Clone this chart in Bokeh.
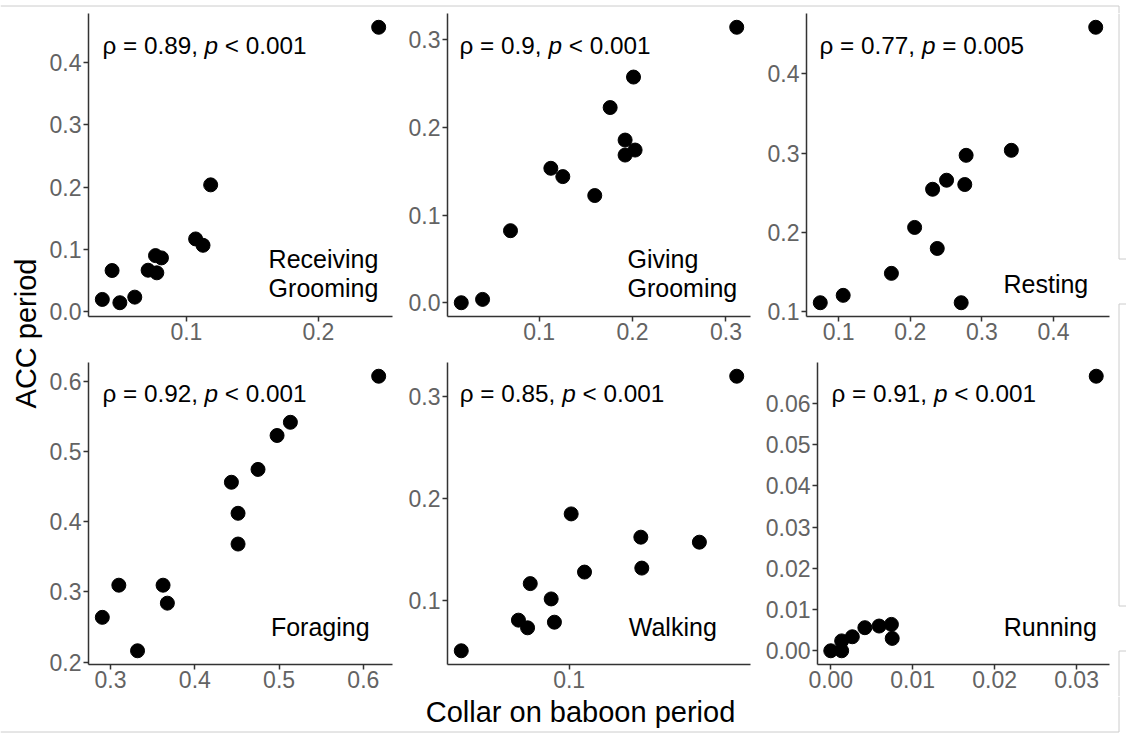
import math
import numpy as np
from bokeh.plotting import figure
from bokeh.layouts import row, column
from bokeh.models import FixedTicker, PrintfTickFormatter, Range1d
from bokeh.core.properties import value
from bokeh.embed import file_html
from bokeh.resources import INLINE

# ---------------- data ----------------
rg_collar = [0.2457, 0.1184, 0.1070, 0.1126, 0.0766, 0.0811, 0.0710, 0.0776, 0.0437, 0.0363, 0.0496, 0.0609]
rg_acc = [0.4570, 0.2035, 0.1165, 0.1063, 0.0897, 0.0860, 0.0662, 0.0620, 0.0657, 0.0192, 0.0139, 0.0229]

gg_collar = [0.0166, 0.0394, 0.0693, 0.1125, 0.1253, 0.1595, 0.1760, 0.1920, 0.1920, 0.2027, 0.2010, 0.3115]
gg_acc = [0.0000, 0.0038, 0.0822, 0.1534, 0.1439, 0.1223, 0.2227, 0.1856, 0.1685, 0.1742, 0.2575, 0.3143]

rs_collar = [0.0744, 0.1064, 0.1737, 0.2061, 0.2377, 0.2312, 0.2507, 0.2761, 0.2780, 0.2711, 0.3411, 0.4589]
rs_acc = [0.1113, 0.1206, 0.1483, 0.2062, 0.1797, 0.2543, 0.2657, 0.2603, 0.2971, 0.1113, 0.3034, 0.4585]

fo_collar = [0.6182, 0.5134, 0.4976, 0.4750, 0.4434, 0.4513, 0.4513, 0.3098, 0.3623, 0.3674, 0.2902, 0.3320]
fo_acc = [0.6070, 0.5414, 0.5226, 0.4743, 0.4560, 0.4118, 0.3680, 0.3094, 0.3094, 0.2838, 0.2636, 0.2160]

wk_collar = [0.3188, 0.1014, 0.1642, 0.2462, 0.1112, 0.1653, 0.0764, 0.0883, 0.0903, 0.0704, 0.0750, 0.0474]
wk_acc = [0.3195, 0.1846, 0.1618, 0.1569, 0.1276, 0.1315, 0.1163, 0.1013, 0.0785, 0.0805, 0.0730, 0.0505]

rn_collar = [0.0324, 0.0000, 0.00133, 0.00133, 0.00263, 0.00416, 0.0059, 0.0074, 0.0075]
rn_acc = [0.0666, 0.0000, 0.0000, 0.0024, 0.0034, 0.0056, 0.0060, 0.0064, 0.0030]

# tick values and labels
rg_xticks, rg_xlabels = [0.1, 0.2], ["0.1", "0.2"]
rg_yticks, rg_ylabels = [0.0, 0.1, 0.2, 0.3, 0.4], ["0.0", "0.1", "0.2", "0.3", "0.4"]
gg_xticks, gg_xlabels = [0.1, 0.2, 0.3], ["0.1", "0.2", "0.3"]
gg_yticks, gg_ylabels = [0.0, 0.1, 0.2, 0.3], ["0.0", "0.1", "0.2", "0.3"]
rs_xticks, rs_xlabels = [0.1, 0.2, 0.3, 0.4], ["0.1", "0.2", "0.3", "0.4"]
rs_yticks, rs_ylabels = [0.1, 0.2, 0.3, 0.4], ["0.1", "0.2", "0.3", "0.4"]
fo_xticks, fo_xlabels = [0.3, 0.4, 0.5, 0.6], ["0.3", "0.4", "0.5", "0.6"]
fo_yticks, fo_ylabels = [0.2, 0.3, 0.4, 0.5, 0.6], ["0.2", "0.3", "0.4", "0.5", "0.6"]
wk_xticks, wk_xlabels = [0.1], ["0.1"]
wk_yticks, wk_ylabels = [0.1, 0.2, 0.3], ["0.1", "0.2", "0.3"]
rn_xticks, rn_xlabels = [0.0, 0.01, 0.02, 0.03], ["0.00", "0.01", "0.02", "0.03"]
rn_yticks, rn_ylabels = [0.0, 0.01, 0.02, 0.03, 0.04, 0.05, 0.06], ["0.00", "0.01", "0.02", "0.03", "0.04", "0.05", "0.06"]

rho_values = ["0.89", "0.9", "0.77", "0.92", "0.85", "0.91"]
p_values = ["< 0.001", "< 0.001", "= 0.005", "< 0.001", "< 0.001", "< 0.001"]
behaviours = [["Receiving", "Grooming"], ["Giving", "Grooming"], ["Resting"], ["Foraging"], ["Walking"], ["Running"]]

x_title = "Collar on baboon period"
y_title = "ACC period"

# ---------------- styling ----------------
FONT = "Liberation Sans"
TICK_FS = 23
ANNO_FS = 24.3
LABEL_FS = 25
TITLE_FS = 29
BASE_FIX = 0.4          # empirical shift of the alphabetic baseline (em)
FRAME_GREY = "#cccccc"

# approximate Liberation Sans advance widths (em)
WID = {c: 0.556 for c in "0123456789"}
WID.update({".": 0.278, ",": 0.278, " ": 0.278, "=": 0.584, "<": 0.584, "p": 0.556, "\u03c1": 0.574})


def str_w(s, fs):
    return sum(WID.get(c, 0.556) for c in s) * fs


def expand(vals, log=False):
    a = np.asarray(vals, dtype=float)
    if log:
        a = np.log10(a)
    lo, hi = a.min(), a.max()
    pad = 0.05 * (hi - lo)
    lo, hi = lo - pad, hi + pad
    if log:
        return 10 ** lo, 10 ** hi
    return lo, hi


def panel(xs, ys, xt, xl, yt, yl, width, height, left, right, top, bottom,
          rho, pv, beh, anno_pos, beh_pos, xdec, ydec, xlog=False):
    fw = width - left - right
    fh = height - top - bottom
    x0, x1 = expand(xs, xlog)
    y0, y1 = expand(ys)
    p = figure(width=width, height=height,
               x_range=Range1d(x0, x1), y_range=Range1d(y0, y1),
               x_axis_type="log" if xlog else "linear",
               output_backend="svg", toolbar_location=None,
               min_border_left=left, min_border_right=right,
               min_border_top=top, min_border_bottom=bottom)
    p.outline_line_color = None
    p.xgrid.visible = False
    p.ygrid.visible = False
    p.background_fill_color = "white"
    p.border_fill_color = "white"

    p.xaxis.ticker = FixedTicker(ticks=xt)
    p.yaxis.ticker = FixedTicker(ticks=yt)
    p.xaxis.formatter = PrintfTickFormatter(format="%%.%df" % xdec)
    p.yaxis.formatter = PrintfTickFormatter(format="%%.%df" % ydec)
    p.xaxis.major_label_overrides = {t: s for t, s in zip(xt, xl)}
    p.yaxis.major_label_overrides = {t: s for t, s in zip(yt, yl)}
    for ax in (p.xaxis, p.yaxis):
        ax.axis_line_color = "#333333"
        ax.axis_line_width = 1.5
        ax.major_tick_line_color = "#333333"
        ax.major_tick_line_width = 1.5
        ax.major_tick_out = 5
        ax.major_tick_in = 0
        ax.minor_tick_line_color = None
        ax.major_label_text_font = FONT
        ax.major_label_text_font_size = "%dpx" % TICK_FS
        ax.major_label_text_color = "#636363"
    p.xaxis.major_label_standoff = 1
    p.yaxis.major_label_standoff = 2

    p.scatter(xs, ys, size=14, color="black")

    def to_data(dx, dy_top):
        if xlog:
            lx0, lx1 = math.log10(x0), math.log10(x1)
            x = 10 ** (lx0 + dx / fw * (lx1 - lx0))
        else:
            x = x0 + dx / fw * (x1 - x0)
        y = y1 - dy_top / fh * (y1 - y0)
        return x, y

    # correlation annotation: "ρ = r, " + italic "p" + " < 0.001"
    fix = BASE_FIX * ANNO_FS
    part1 = "\u03c1 = %s," % rho
    ax_, ay_ = anno_pos
    xa, ya = to_data(ax_, ay_ - fix)
    xb, _ = to_data(ax_ + str_w(part1 + " ", ANNO_FS), ay_)
    xc, _ = to_data(ax_ + str_w(part1 + " p ", ANNO_FS), ay_)
    anno = dict(text_font=value(FONT), text_font_size="%.1fpx" % ANNO_FS,
                text_color="black", text_baseline="alphabetic", text_align="left")
    p.text(x=[xa, xc], y=[ya, ya], text=[part1, pv], **anno)
    p.text(x=[xb], y=[ya], text=["p"], text_font_style="italic", **anno)

    # behaviour label (left aligned, lines given as baseline distance from bottom)
    fix = BASE_FIX * LABEL_FS
    lab = dict(text_font=value(FONT), text_font_size="%dpx" % LABEL_FS,
               text_color="black", text_baseline="alphabetic", text_align="left")
    bx, bys = beh_pos
    tx, ty = [], []
    for b in bys:
        xx, yy_ = to_data(bx, fh - b - fix)
        tx.append(xx)
        ty.append(yy_)
    p.text(x=tx, y=ty, text=beh, **lab)
    return p


# ---------------- layout (pixels) ----------------
W = 1126
TOP = 13            # strip above the first row
YL = 46             # width of the y-title strip
RW = 9              # strip on the right
H1 = 336            # row 1: frame 303 + bottom 33
H2 = 347            # row 2: top 13 + frame 302 + bottom 32
MID_H = H1 + H2
BOTTOM_H = 733 - TOP - MID_H
MID_BOTTOM = TOP + MID_H

f1 = panel(rg_collar, rg_acc, rg_xticks, rg_xlabels, rg_yticks, rg_ylabels,
           349, H1, 41, 3, 0, 33, rho_values[0], p_values[0], behaviours[0],
           (14, 42), (180.7, [48, 18.5]), 1, 1)
f2 = panel(gg_collar, gg_acc, gg_xticks, gg_xlabels, gg_yticks, gg_ylabels,
           358, H1, 52, 3, 0, 33, rho_values[1], p_values[1], behaviours[1],
           (12, 42), (180, [47.7, 18.3]), 1, 1)
f3 = panel(rs_collar, rs_acc, rs_xticks, rs_xlabels, rs_yticks, rs_ylabels,
           364, H1, 53, 8, 0, 33, rho_values[2], p_values[2], behaviours[2],
           (13, 42), (197, [22.7]), 1, 1)
f4 = panel(fo_collar, fo_acc, fo_xticks, fo_xlabels, fo_yticks, fo_ylabels,
           349, H2, 41, 3, 13, 32, rho_values[3], p_values[3], behaviours[3],
           (14, 41), (183, [27.3]), 1, 1)
f5 = panel(wk_collar, wk_acc, wk_xticks, wk_xlabels, wk_yticks, wk_ylabels,
           358, H2, 52, 3, 13, 32, rho_values[4], p_values[4], behaviours[4],
           (12.3, 41), (181.3, [27.3]), 1, 1, xlog=True)
f6 = panel(rn_collar, rn_acc, rn_xticks, rn_xlabels, rn_yticks, rn_ylabels,
           364, H2, 64, 8, 13, 32, rho_values[5], p_values[5], behaviours[5],
           (14, 41), (186.3, [27.3]), 2, 2)


def blank(w, h):
    q = figure(width=w, height=h, x_range=Range1d(0, w), y_range=Range1d(0, h),
               output_backend="svg", toolbar_location=None,
               min_border=0, min_border_left=0, min_border_right=0,
               min_border_top=0, min_border_bottom=0)
    q.axis.visible = False
    q.xgrid.visible = False
    q.ygrid.visible = False
    q.outline_line_color = None
    return q


# top strip with the light frame line of the screenshot
top = blank(W, TOP)
top.segment(x0=[0, 1118.5], y0=[TOP - 5.5, TOP - 5.5], x1=[1118.5, 1118.5], y1=[TOP - 5.5, 0],
            line_color=FRAME_GREY, line_width=1)

# right strip with the broken frame edge
rs = blank(RW, MID_H)


def ry(a):
    return MID_H - (a - TOP)


rs.segment(x0=[1.5, 1.5, 1.5, 1.5, 1.5, 1.5, 1.5],
           y0=[ry(TOP), ry(258.5), ry(303.5), ry(303.5), ry(605.5), ry(650.5), ry(650.5)],
           x1=[1.5, RW, RW, 1.5, RW, RW, 1.5],
           y1=[ry(258.5), ry(258.5), ry(303.5), ry(605.5), ry(605.5), ry(650.5), ry(MID_BOTTOM)],
           line_color=FRAME_GREY, line_width=1)

ylab = blank(YL, MID_H)
ylab.text(x=[37 - BASE_FIX * TITLE_FS], y=[MID_H - (333 - TOP)], text=[y_title], angle=math.pi / 2,
          text_font=value(FONT), text_font_size="%dpx" % TITLE_FS, text_color="black",
          text_align="center", text_baseline="alphabetic")

xlab = blank(W, BOTTOM_H)
xlab.text(x=[580], y=[BOTTOM_H - (723 - MID_BOTTOM) + BASE_FIX * TITLE_FS], text=[x_title],
          text_font=value(FONT), text_font_size="%dpx" % TITLE_FS, text_color="black",
          text_align="center", text_baseline="alphabetic")
yb = BOTTOM_H - (732 - MID_BOTTOM) + 0.5
xlab.segment(x0=[0, 1118.5], y0=[yb, BOTTOM_H], x1=[1118.5, 1118.5], y1=[yb, yb],
             line_color=FRAME_GREY, line_width=1)

layout = column(top,
                row(ylab, column(row(f1, f2, f3), row(f4, f5, f6)), rs),
                xlab)

open("out.html", "w").write(file_html(layout, INLINE))
